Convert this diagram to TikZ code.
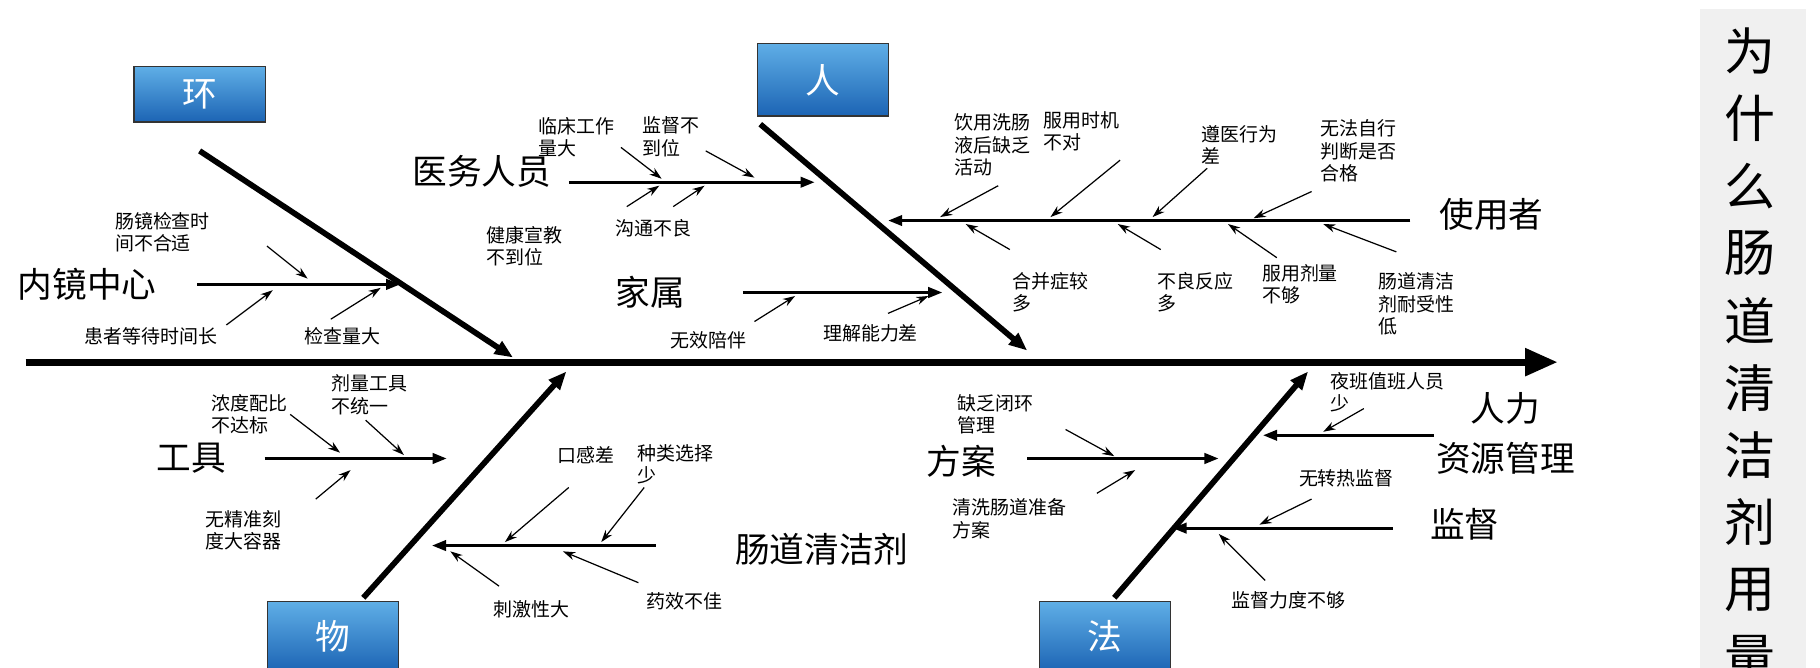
\documentclass[tikz,border=0pt]{standalone}
\usepackage{fontspec}
\setmainfont{Noto Sans CJK SC}
\usetikzlibrary{arrows.meta}
\definecolor{boxtop}{HTML}{5FAEE6}
\definecolor{boxbot}{HTML}{1C64B4}
\tikzset{
  spine/.style={line width=3.4pt,-{Triangle[length=16pt,width=13pt]}},
  bone/.style={line width=2.8pt,-{Triangle[length=9pt,width=7pt]}},
  branch/.style={line width=1.6pt,-{Triangle[length=7pt,width=5pt]}},
  twig/.style={line width=0.6pt,-{Stealth[length=6pt,width=4pt]}},
  cat/.style={draw=black!80,line width=0.6pt,minimum width=2.26cm,minimum height=0.95cm,
    top color=boxtop,bottom color=boxbot,text=white,font=\fontsize{17}{17}\selectfont},
  big/.style={font=\fontsize{17}{19}\selectfont},
  lbl/.style={font=\fontsize{9.3}{11}\selectfont,align=left,inner sep=1pt}
}
\begin{document}
\begin{tikzpicture}[x=0.02cm,y=-0.02cm]
\useasboundingbox (0,0) rectangle (1568,575);
\begin{scope}
\clip (0,0) rectangle (1568,575);
% title column
\fill[black!6] (1465,8) rectangle (1556,590);
\foreach \c [count=\i] in {为,什,么,肠,道,清,洁,剂,用,量}
  \node[font=\fontsize{25}{25}\selectfont,text=black,draw=black,draw opacity=0,line width=0.3pt] (t\i) at (1508,-14+58*\i) {\c};
% category boxes
\node[cat,anchor=north west] (env) at (115,57) {环};
\node[cat,anchor=north west,minimum height=1.25cm] (man) at (652,37) {人};
\node[cat,anchor=north west,minimum height=1.2cm] (mat) at (230,518) {物};
\node[cat,anchor=north west,minimum height=1.2cm] (meth) at (895,518) {法};
\end{scope}
% spine and bones
\coordinate (s0) at (22,312); \coordinate (s1) at (1342,312);
\draw[spine] (s0) -- (s1);
\coordinate (e0) at (172,130); \coordinate (e1) at (442,308);
\coordinate (m0) at (655,107); \coordinate (m1) at (885,302);
\coordinate (w0) at (313,515); \coordinate (w1) at (488,320);
\coordinate (f0) at (960,515); \coordinate (f1) at (1127,320);
\foreach \a/\b in {e0/e1,m0/m1,w0/w1,f0/f1} \draw[bone] (\a) -- (\b);
% 环
\node[big] (c1) at (75,245) {内镜中心};
\draw[branch] (170,245) -- (345,245);
\node[lbl] (c1a) at (140,200) {肠镜检查时\\间不合适};
\draw[twig] (230,212) -- (265,240);
\node[lbl] (c1b) at (130,290) {患者等待时间长};
\draw[twig] (195,280) -- (235,250);
\node[lbl] (c1c) at (295,290) {检查量大};
\draw[twig] (285,275) -- (328,248);
% 人
\node[big] (c2) at (415,148) {医务人员};
\draw[branch] (490,157) -- (702,157);
\node[lbl] (c2a) at (497,118) {临床工作\\量大};
\draw[twig] (535,127) -- (570,154);
\node[lbl] (c2b) at (578,118) {监督不\\到位};
\draw[twig] (608,130) -- (650,153);
\node[lbl] (c2c) at (452,212) {健康宣教\\不到位};
\draw[twig] (540,178) -- (568,160);
\node[lbl] (c2d) at (563,197) {沟通不良};
\draw[twig] (580,178) -- (607,160);
\node[big] (c3) at (560,252) {家属};
\draw[branch] (640,252) -- (812,252);
\node[lbl] (c3a) at (610,293) {无效陪伴};
\draw[twig] (650,277) -- (685,255);
\node[lbl] (c3b) at (750,287) {理解能力差};
\draw[twig] (765,270) -- (800,255);
\node[big] (c4) at (1285,185) {使用者};
\draw[branch] (1215,190) -- (765,190);
\node[lbl] (c4a) at (855,125) {饮用洗肠\\液后缺乏\\活动};
\draw[twig] (860,160) -- (810,187);
\node[lbl] (c4b) at (932,113) {服用时机\\不对};
\draw[twig] (965,138) -- (905,187);
\node[lbl] (c4c) at (1068,125) {遵医行为\\差};
\draw[twig] (1040,145) -- (993,187);
\node[lbl] (c4d) at (1170,130) {无法自行\\判断是否\\合格};
\draw[twig] (1130,165) -- (1080,188);
\node[lbl] (c4e) at (905,252) {合并症较\\多};
\draw[twig] (870,215) -- (832,193);
\node[lbl] (c4f) at (1030,252) {不良反应\\多};
\draw[twig] (1000,215) -- (963,193);
\node[lbl] (c4g) at (1120,245) {服用剂量\\不够};
\draw[twig] (1100,222) -- (1058,193);
\node[lbl] (c4h) at (1220,262) {肠道清洁\\剂耐受性\\低};
\draw[twig] (1203,217) -- (1140,193);
% 物
\node[big] (c5) at (165,395) {工具};
\draw[branch] (228,395) -- (385,395);
\node[lbl] (c5a) at (215,357) {浓度配比\\不达标};
\draw[twig] (250,357) -- (293,390);
\node[lbl] (c5b) at (318,340) {剂量工具\\不统一};
\draw[twig] (315,362) -- (348,392);
\node[lbl] (c5c) at (210,457) {无精准刻\\度大容器};
\draw[twig] (272,430) -- (302,405);
\node[big] (c6) at (708,473) {肠道清洁剂};
\draw[branch] (565,470) -- (372,470);
\node[lbl] (c6a) at (505,392) {口感差};
\draw[twig] (490,420) -- (435,467);
\node[lbl] (c6b) at (582,400) {种类选择\\少};
\draw[twig] (555,420) -- (518,467);
\node[lbl] (c6c) at (458,525) {刺激性大};
\draw[twig] (430,505) -- (388,475);
\node[lbl] (c6d) at (590,518) {药效不佳};
\draw[twig] (550,502) -- (485,475);
% 法
\node[big] (c7) at (828,397) {方案};
\draw[branch] (885,395) -- (1050,395);
\node[lbl] (c7a) at (858,357) {缺乏闭环\\管理};
\draw[twig] (918,370) -- (960,393);
\node[lbl] (c7b) at (870,447) {清洗肠道准备\\方案};
\draw[twig] (945,425) -- (978,405);
\node[big] (c8a) at (1297,352) {人力};
\node[big] (c8b) at (1297,395) {资源管理};
\draw[branch] (1235,375) -- (1088,375);
\node[lbl] (c8c) at (1195,338) {夜班值班人员\\少};
\draw[twig] (1175,352) -- (1140,372);
\node[big] (c9) at (1262,452) {监督};
\draw[branch] (1200,455) -- (1010,455);
\node[lbl] (c9a) at (1160,412) {无转热监督};
\draw[twig] (1130,430) -- (1085,452);
\node[lbl] (c9b) at (1110,517) {监督力度不够};
\draw[twig] (1090,500) -- (1050,460);
\end{tikzpicture}
\end{document}
